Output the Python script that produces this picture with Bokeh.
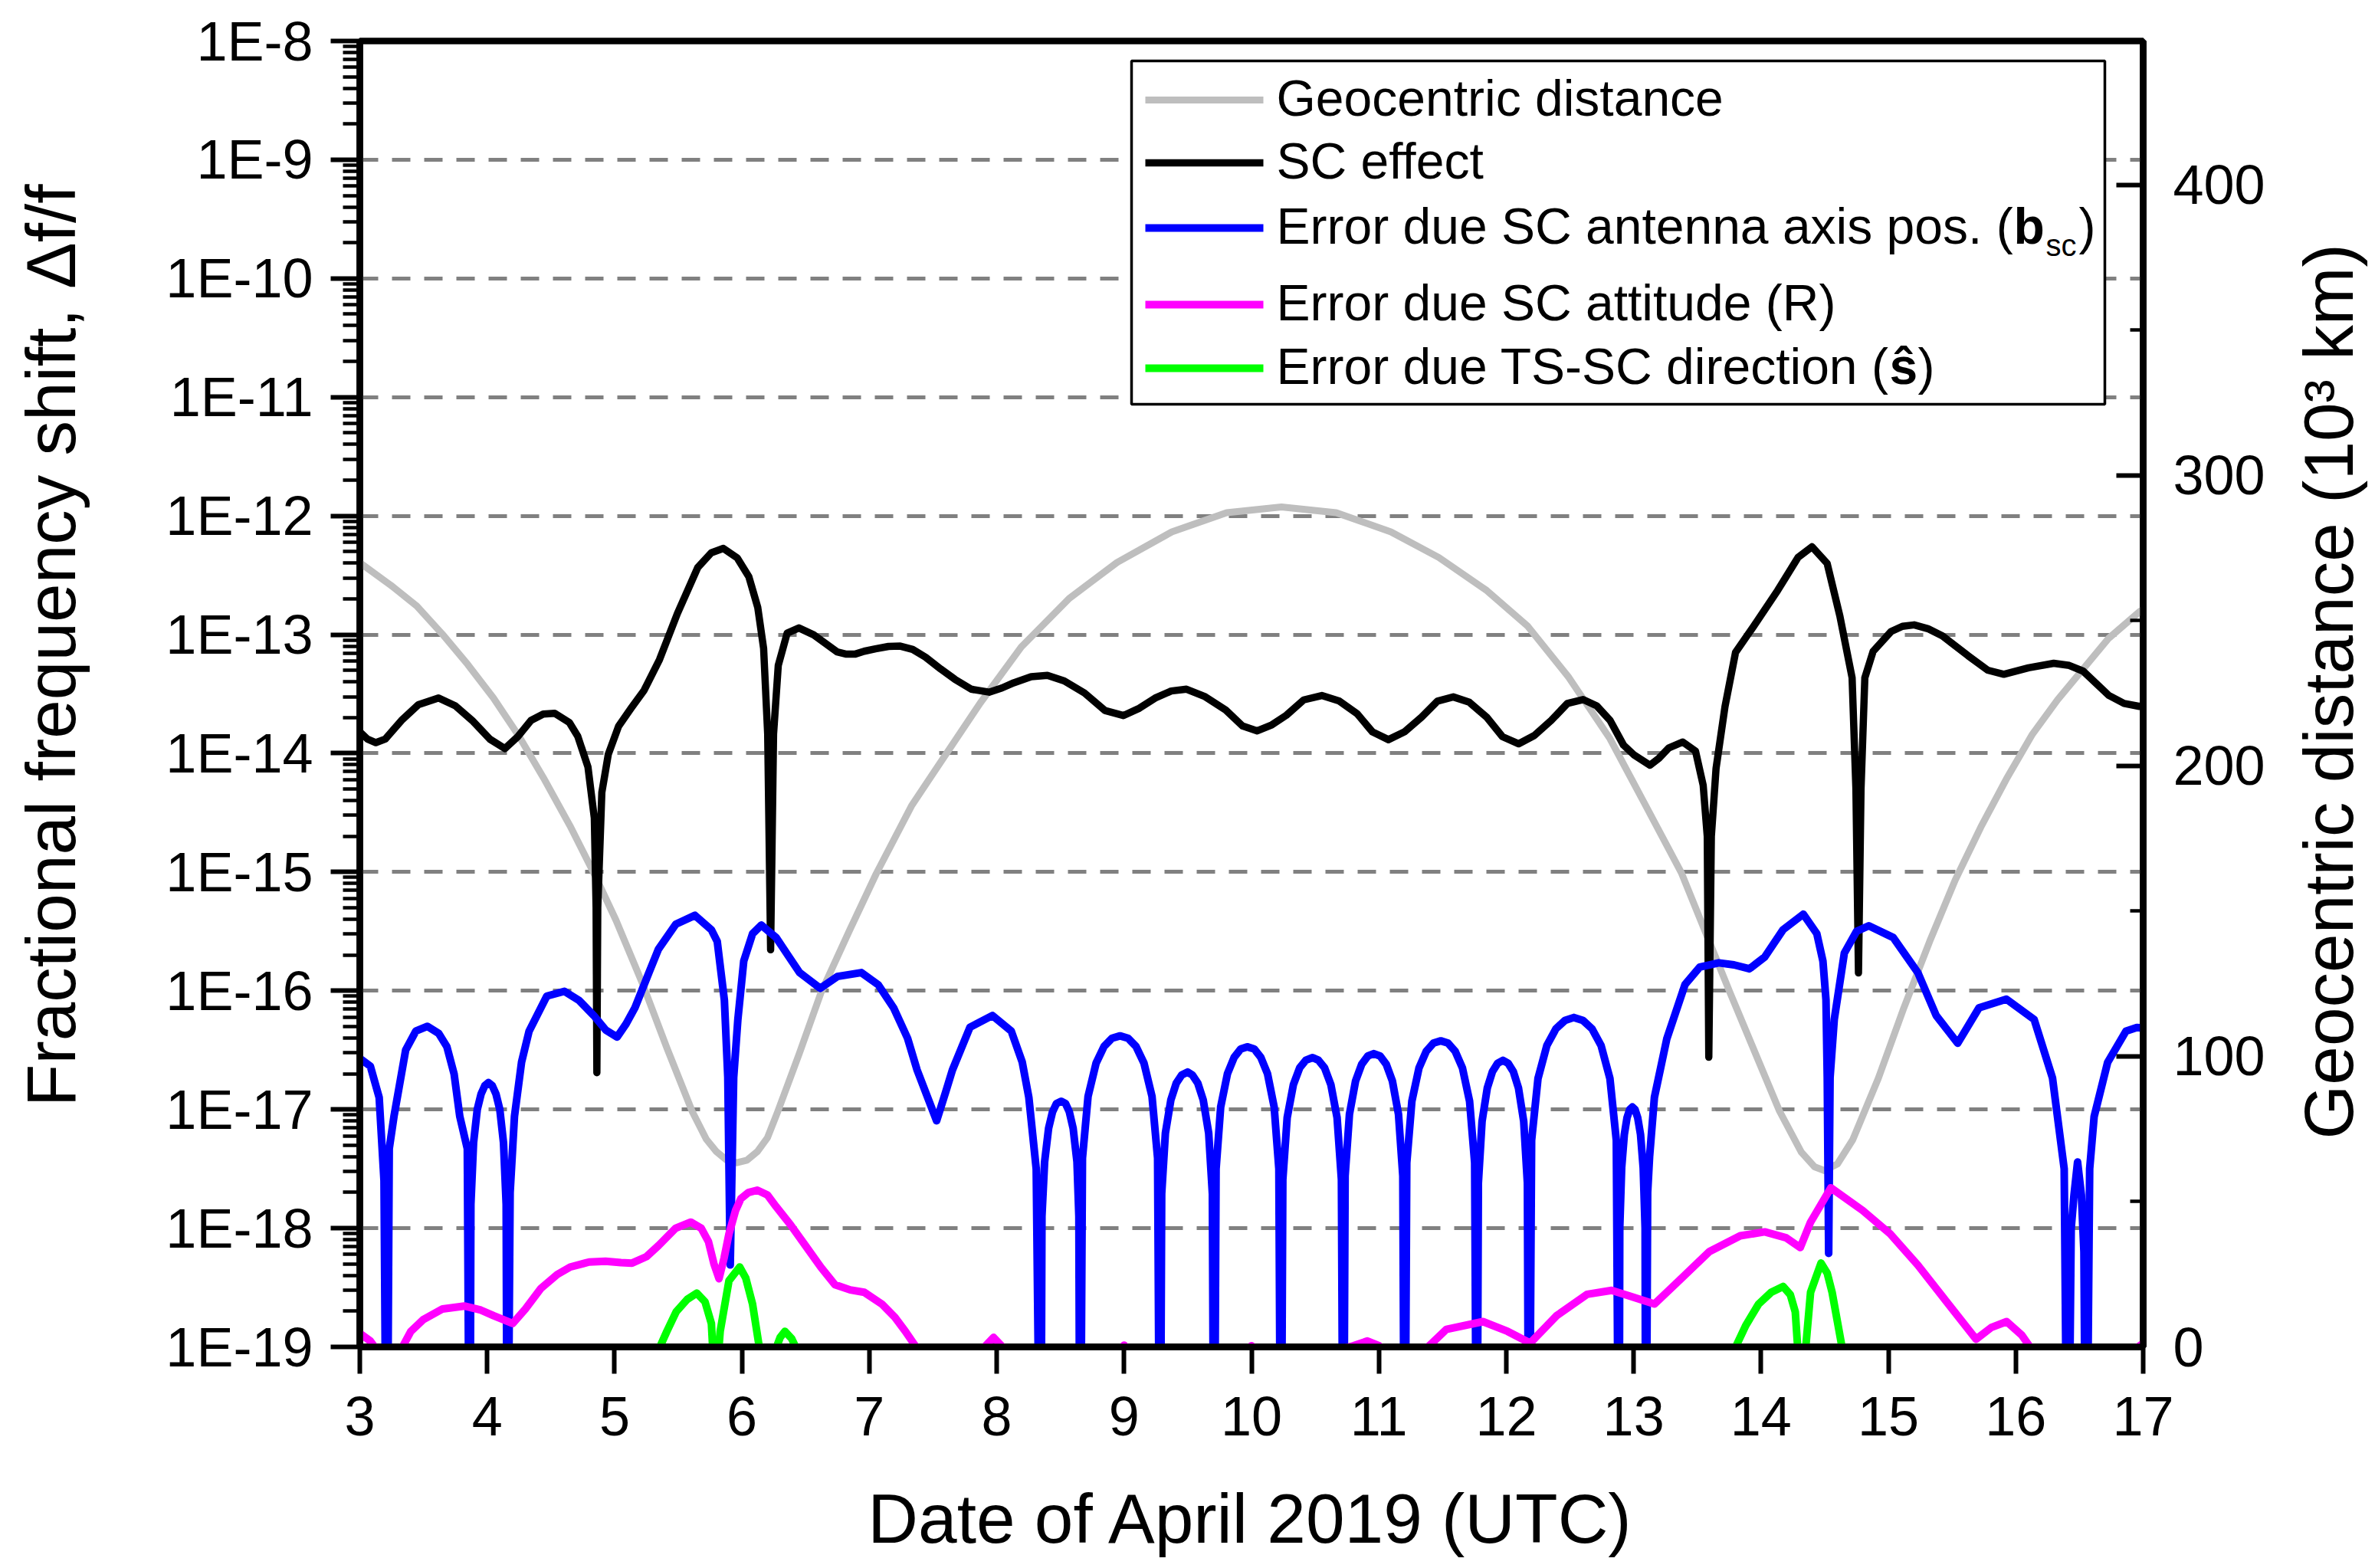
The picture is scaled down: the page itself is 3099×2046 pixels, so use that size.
import math
from bokeh.plotting import figure
from bokeh.models import Range1d, LinearAxis, LinearScale, FixedTicker, CustomJSTickFormatter, Label
from bokeh.embed import file_html
from bokeh.resources import INLINE

FONT = "Liberation Sans"

# ---------------- data ----------------
# x: day of April 2019; y values given as log10 of fractional frequency shift
day_ticks = [3, 4, 5, 6, 7, 8, 9, 10, 11, 12, 13, 14, 15, 16, 17]
decade_exponents = list(range(-19, -7))
dist_ticks = [0, 100, 200, 300, 400]
dist_minor = [50, 150, 250, 350]

left_title = "Fractional frequency shift, \u0394f/f"
bottom_title = "Date of April 2019 (UTC)"
right_title = "Geocentric distance (10\u00b3 km)"

# Geocentric distance (10^3 km)
geocentric = [(3.0, 270), (3.247, 262.1), (3.447, 255.1), (3.648, 245.4), (3.848, 234.9), (4.049, 223.4),
              (4.25, 210.2), (4.45, 195.3), (4.65, 179.4), (4.851, 161.9), (5.011, 146.9), (5.22, 125),
              (5.41, 103), (5.61, 81), (5.72, 71.5), (5.80, 67.2), (5.88, 64.3), (5.96, 63.4), (6.04, 64.3),
              (6.12, 67.2), (6.20, 72), (6.28, 80.9), (6.45, 101), (6.62, 121.9), (6.84, 143), (7.055, 163),
              (7.334, 186.5), (7.602, 204.1), (7.871, 221.7), (8.193, 241), (8.569, 257.7), (8.945, 270.1),
              (9.375, 280.6), (9.805, 287.2), (10.235, 289.2), (10.665, 287.2), (11.094, 280.6), (11.47, 271.8),
              (11.847, 260.4), (12.169, 248.1), (12.491, 230.5), (12.814, 209.4), (13.082, 187.4), (13.374, 163.3),
              (13.76, 121.6), (14.145, 81.2), (14.317, 67), (14.42, 62), (14.499, 60.7), (14.6, 63), (14.72, 71.3),
              (14.921, 92.5), (15.122, 116.8), (15.323, 139.5), (15.524, 160.7), (15.725, 178.9), (15.926, 195.5),
              (16.127, 210.7), (16.328, 222.8), (16.529, 233.4), (16.73, 244.0), (16.971, 253.1), (17.0, 254)]

# SC effect (log10 of df/f)
sc_effect = [(3.0, -13.82), (3.06, -13.88), (3.126, -13.91), (3.2, -13.88), (3.327, -13.723), (3.46, -13.59),
             (3.618, -13.534), (3.75, -13.6), (3.882, -13.723), (4.02, -13.88), (4.139, -13.96), (4.24, -13.86),
             (4.344, -13.723), (4.44, -13.67), (4.53, -13.663), (4.645, -13.74), (4.711, -13.857),
             (4.791, -14.115), (4.841, -14.546), (4.855, -15.3), (4.861, -16.69), (4.868, -15.3),
             (4.9, -14.33), (4.951, -14.007), (5.032, -13.771), (5.13, -13.62), (5.232, -13.469),
             (5.353, -13.21), (5.493, -12.823), (5.653, -12.435), (5.76, -12.31), (5.854, -12.274),
             (5.962, -12.353), (6.054, -12.512), (6.124, -12.771), (6.17, -13.117), (6.202, -13.838),
             (6.225, -15.655), (6.248, -13.838), (6.285, -13.26), (6.355, -12.987), (6.447, -12.944),
             (6.563, -13.002), (6.747, -13.146), (6.82, -13.165), (6.886, -13.165), (6.96, -13.14),
             (7.048, -13.12), (7.15, -13.1), (7.243, -13.097), (7.34, -13.125), (7.441, -13.19),
             (7.56, -13.29), (7.672, -13.377), (7.8, -13.46), (7.94, -13.485), (8.04, -13.45),
             (8.134, -13.406), (8.27, -13.355), (8.398, -13.344), (8.53, -13.39), (8.689, -13.492),
             (8.85, -13.64), (8.994, -13.682), (9.12, -13.62), (9.243, -13.535), (9.37, -13.475),
             (9.49, -13.46), (9.63, -13.52), (9.798, -13.636), (9.93, -13.77), (10.045, -13.811),
             (10.16, -13.76), (10.273, -13.68), (10.41, -13.55), (10.552, -13.513), (10.69, -13.56),
             (10.828, -13.665), (10.95, -13.82), (11.075, -13.885), (11.2, -13.82), (11.336, -13.694),
             (11.46, -13.56), (11.584, -13.525), (11.71, -13.57), (11.845, -13.694), (11.97, -13.86),
             (12.098, -13.92), (12.22, -13.85), (12.353, -13.723), (12.48, -13.58), (12.603, -13.547),
             (12.71, -13.6), (12.815, -13.723), (12.92, -13.93), (13.0, -14.011), (13.128, -14.1),
             (13.2, -14.04), (13.277, -13.954), (13.386, -13.905), (13.486, -13.982), (13.546, -14.27),
             (13.578, -14.7), (13.59, -16.56), (13.61, -14.7), (13.647, -14.127), (13.717, -13.607),
             (13.8, -13.15), (13.942, -12.93), (14.13, -12.629), (14.291, -12.35), (14.40, -12.26),
             (14.519, -12.4), (14.619, -12.844), (14.715, -13.364), (14.745, -14.3), (14.765, -15.85),
             (14.785, -14.3), (14.815, -13.364), (14.88, -13.141), (15.021, -12.974), (15.11, -12.93),
             (15.202, -12.918), (15.31, -12.95), (15.424, -13.011), (15.625, -13.178), (15.78, -13.3),
             (15.906, -13.334), (16.1, -13.28), (16.298, -13.242), (16.42, -13.26), (16.529, -13.308),
             (16.73, -13.512), (16.85, -13.58), (16.971, -13.605), (17.0, -13.6)]

# Error due SC antenna axis position (log10)
antenna_err = [(3.0, -16.57), (3.083, -16.636), (3.152, -16.9), (3.19, -17.6), (3.212, -21), (3.231, -17.33),
               (3.268, -17.06), (3.36, -16.5), (3.44, -16.34), (3.531, -16.3), (3.62, -16.36), (3.683, -16.47),
               (3.74, -16.7), (3.785, -17.06), (3.844, -17.33), (3.863, -21),
               (3.872, -17.8), (3.893, -17.28), (3.922, -17.0), (3.952, -16.87), (3.981, -16.8), (4.01, -16.774),
               (4.04, -16.8), (4.069, -16.87), (4.099, -17.0), (4.128, -17.28), (4.149, -17.8), (4.158, -21),
               (4.18, -17.7), (4.214, -17.06), (4.27, -16.6), (4.329, -16.34), (4.468, -16.045), (4.606, -16.005),
               (4.72, -16.08), (4.837, -16.209), (4.93, -16.33), (5.02, -16.39), (5.09, -16.28), (5.16, -16.143),
               (5.25, -15.9), (5.344, -15.65), (5.48, -15.44), (5.631, -15.365), (5.76, -15.486), (5.806, -15.585),
               (5.862, -16.08), (5.889, -16.73), (5.908, -18.31), (5.935, -16.73), (5.968, -16.24), (6.014, -15.75),
               (6.083, -15.52), (6.152, -15.447), (6.268, -15.552), (6.36, -15.7), (6.452, -15.847), (6.614, -15.979),
               (6.75, -15.88), (6.937, -15.847), (7.07, -15.95), (7.19, -16.143), (7.3, -16.4), (7.375, -16.668),
               (7.528, -17.095), (7.6, -16.85), (7.652, -16.668), (7.79, -16.307), (7.966, -16.209), (8.114, -16.34),
               (8.2, -16.6), (8.252, -16.898), (8.31, -17.5), (8.345, -21),
               (8.355, -17.9), (8.376, -17.44), (8.407, -17.16), (8.438, -17.02), (8.469, -16.95), (8.506, -16.931),
               (8.54, -16.95), (8.57, -17.02), (8.60, -17.16), (8.63, -17.44), (8.645, -17.9), (8.654, -21),
               (8.673, -17.41), (8.717, -16.89), (8.78, -16.61), (8.842, -16.47), (8.905, -16.40), (8.968, -16.38),
               (9.031, -16.40), (9.094, -16.47), (9.156, -16.61), (9.219, -16.89), (9.263, -17.41), (9.282, -21),
               (9.295, -17.71), (9.324, -17.2), (9.367, -16.92), (9.409, -16.78), (9.452, -16.71), (9.498, -16.685),
               (9.536, -16.71), (9.579, -16.78), (9.621, -16.92), (9.664, -17.2), (9.693, -17.71), (9.706, -21),
               (9.722, -17.5), (9.758, -16.98), (9.811, -16.70), (9.864, -16.56), (9.916, -16.49), (9.966, -16.472),
               (10.021, -16.49), (10.073, -16.56), (10.126, -16.70), (10.178, -16.98), (10.215, -17.5), (10.231, -21),
               (10.246, -17.59), (10.28, -17.07), (10.329, -16.79), (10.378, -16.65), (10.427, -16.585),
               (10.48, -16.563), (10.525, -16.585), (10.574, -16.65), (10.623, -16.79), (10.672, -17.07),
               (10.706, -17.59), (10.721, -21),
               (10.735, -17.56), (10.769, -17.04), (10.817, -16.76), (10.865, -16.62), (10.913, -16.55),
               (10.96, -16.53), (11.01, -16.55), (11.058, -16.62), (11.106, -16.76), (11.154, -17.04),
               (11.188, -17.56), (11.202, -21),
               (11.219, -17.45), (11.259, -16.93), (11.315, -16.65), (11.372, -16.51), (11.429, -16.44),
               (11.486, -16.422), (11.542, -16.44), (11.599, -16.51), (11.656, -16.65), (11.712, -16.93),
               (11.752, -17.45), (11.769, -21),
               (11.781, -17.62), (11.81, -17.1), (11.851, -16.82), (11.892, -16.68), (11.933, -16.61),
               (11.974, -16.586), (12.014, -16.61), (12.055, -16.68), (12.096, -16.82), (12.137, -17.1),
               (12.166, -17.62), (12.178, -21),
               (12.199, -17.26), (12.249, -16.74), (12.319, -16.46), (12.39, -16.32), (12.461, -16.25),
               (12.531, -16.225), (12.602, -16.25), (12.673, -16.32), (12.744, -16.46), (12.814, -16.74),
               (12.864, -17.26), (12.885, -21),
               (12.891, -18.0), (12.906, -17.49), (12.927, -17.21), (12.948, -17.07), (12.969, -17.0),
               (12.99, -16.98), (13.011, -17.0), (13.032, -17.07), (13.054, -17.21), (13.075, -17.49),
               (13.09, -18.0), (13.096, -21),
               (13.11, -17.7), (13.125, -17.4), (13.163, -16.898), (13.26, -16.406),
               (13.404, -15.946), (13.52, -15.8), (13.668, -15.765), (13.788, -15.782), (13.909, -15.815),
               (14.029, -15.716), (14.173, -15.486), (14.332, -15.355), (14.438, -15.519), (14.486, -15.75),
               (14.51, -16.077), (14.52, -16.73), (14.531, -18.212), (14.542, -16.73), (14.575, -16.242),
               (14.654, -15.683), (14.75, -15.5), (14.846, -15.453), (15.038, -15.552), (15.231, -15.847),
               (15.375, -16.209), (15.544, -16.442), (15.712, -16.143), (15.926, -16.071), (16.144, -16.242),
               (16.288, -16.734), (16.38, -17.5), (16.408, -21), (16.435, -18.0), (16.457, -17.72), (16.485, -17.443),
               (16.515, -17.72), (16.535, -18.2), (16.552, -21), (16.58, -17.5), (16.615, -17.06), (16.721, -16.603),
               (16.865, -16.34), (16.95, -16.31), (17.0, -16.314)]

# Error due SC attitude (log10)
attitude_err = [(3.0, -18.886), (3.083, -18.951), (3.15, -19.05), (3.23, -20.5), (3.31, -19.05), (3.4, -18.87),
                (3.498, -18.77), (3.65, -18.68), (3.82, -18.656), (3.95, -18.69), (4.052, -18.738), (4.2, -18.803),
                (4.3, -18.68), (4.421, -18.508), (4.55, -18.39), (4.652, -18.327), (4.8, -18.285), (4.929, -18.278),
                (5.05, -18.29), (5.137, -18.294), (5.25, -18.24), (5.345, -18.146), (5.48, -18.0), (5.598, -17.949),
                (5.68, -18.0), (5.737, -18.113), (5.78, -18.3), (5.82, -18.425), (5.86, -18.25), (5.898, -18.048),
                (5.95, -17.85), (5.991, -17.752), (6.05, -17.7), (6.12, -17.68), (6.2, -17.72), (6.268, -17.818),
                (6.38, -17.97), (6.498, -18.146), (6.62, -18.33), (6.729, -18.475), (6.85, -18.52), (6.96, -18.54),
                (7.098, -18.639), (7.2, -18.75), (7.283, -18.869), (7.398, -19.05), (7.5, -20.5), (7.8, -20.5),
                (7.86, -19.05), (7.975, -18.92), (8.09, -19.05), (8.2, -20.5), (8.9, -20.5), (8.95, -19.05),
                (9.0, -18.985), (9.05, -19.05), (9.2, -20.5), (9.9, -20.5), (9.95, -19.05), (10.0, -18.99),
                (10.05, -19.05), (10.2, -20.5), (10.5, -20.5), (10.6, -19.05), (10.8, -18.99), (10.91, -18.95),
                (11.0, -18.99), (11.05, -19.05), (11.2, -20.5), (11.3, -20.5), (11.337, -19.05), (11.53, -18.853),
                (11.817, -18.787), (12.01, -18.869), (12.188, -18.968), (12.394, -18.738), (12.635, -18.557),
                (12.827, -18.524), (12.971, -18.573), (13.163, -18.639), (13.356, -18.442), (13.596, -18.196),
                (13.837, -18.064), (14.029, -18.031), (14.197, -18.081), (14.308, -18.163), (14.389, -17.949),
                (14.548, -17.66), (14.798, -17.851), (15.014, -18.048), (15.231, -18.311), (15.471, -18.639),
                (15.688, -18.935), (15.808, -18.836), (15.928, -18.787), (16.048, -18.902), (16.144, -19.05),
                (16.3, -20.5), (16.9, -20.5), (16.96, -19.0), (17.0, -18.97)]

# Error due TS-SC direction (log10)
direction_err = [(5.25, -20.5), (5.335, -19.05), (5.41, -18.87), (5.483, -18.705), (5.57, -18.6), (5.645, -18.547),
                 (5.71, -18.62), (5.76, -18.803), (5.78, -19.2), (5.792, -20.5), (5.805, -19.2), (5.829, -18.869),
                 (5.898, -18.442), (5.982, -18.327), (6.03, -18.42), (6.083, -18.639), (6.143, -19.05), (6.2, -20.5),
                 (6.254, -19.05), (6.3, -18.92), (6.337, -18.869), (6.39, -18.93), (6.443, -19.05), (6.55, -20.5),
                 (13.65, -20.5), (13.779, -19.05), (13.88, -18.82), (13.981, -18.639), (14.08, -18.54),
                 (14.173, -18.491), (14.23, -18.56), (14.269, -18.705), (14.3, -19.2), (14.317, -20.5),
                 (14.335, -19.2), (14.389, -18.54), (14.471, -18.294), (14.52, -18.38), (14.558, -18.54),
                 (14.644, -19.05), (14.75, -20.5)]

series_names = ["Geocentric distance", "SC effect", "Error due SC antenna axis pos. (",
                "Error due SC attitude (R)", "Error due TS-SC direction ("]
series_colors = ["#BEBEBE", "#000000", "#0000FF", "#FF00FF", "#00FF00"]
series_widths = [9, 9.5, 10, 10, 10]


def unzip(pairs, log=True):
    xs = [a for a, _ in pairs]
    ys = [10.0 ** b for _, b in pairs] if log else [b for _, b in pairs]
    return xs, ys


# ---------------- figure ----------------
W, H = 3099, 2046
FL, FR, FT, FB = 469, 2796, 53, 1757   # frame edges in page pixels


def px_x(px):
    return 3 + (px - FL) * 14.0 / (FR - FL)


def px_y(py):
    return 10 ** (-8 - (py - FT) * 11.0 / (FB - FT))


p = figure(frame_width=FR - FL, frame_height=FB - FT,
           x_range=Range1d(3, 17), y_range=Range1d(1e-19, 1e-8),
           y_axis_type="log", output_backend="svg", toolbar_location=None,
           min_border_left=FL, min_border_right=W - FR,
           min_border_top=FT, min_border_bottom=H - FB)
p.extra_y_ranges = {"dist": Range1d(0, 449.6)}
p.extra_y_scales = {"dist": LinearScale()}
p.background_fill_color = "white"
p.border_fill_color = "white"
p.outline_line_color = "black"
p.outline_line_width = 8.5

# grid
p.xgrid.visible = False
p.ygrid.grid_line_color = "#808080"
p.ygrid.grid_line_width = 5
p.ygrid.grid_line_dash = "24 18"

# left log axis
yax = p.yaxis[0]
yax.ticker = FixedTicker(ticks=[10.0 ** e for e in decade_exponents],
                         minor_ticks=[m * 10.0 ** e for e in decade_exponents[:-1] for m in range(2, 10)])
yax.formatter = CustomJSTickFormatter(code="return '1E' + Math.round(Math.log10(tick));")
# leading no-break spaces shift the centred title slightly upward, as in the original
yax.axis_label = "\u00a0" * 5 + left_title

# bottom axis
xax = p.xaxis[0]
xax.ticker = FixedTicker(ticks=day_ticks, minor_ticks=[])
xax.axis_label = bottom_title

# right axis
rax = LinearAxis(y_range_name="dist", ticker=FixedTicker(ticks=dist_ticks, minor_ticks=dist_minor))
p.add_layout(rax, "right")
try:
    rax.axis_label_align = "start"
    rax.axis_label_orientation = math.pi / 2
    rax.axis_label = "\u00a0" * 10 + "\u2009" + right_title
    rax.axis_label_standoff = 80
except AttributeError:
    rax.axis_label = right_title
    rax.axis_label_standoff = 40

for ax in (yax, xax, rax):
    ax.axis_line_width = 8.5
    ax.axis_line_color = "black"
    ax.major_tick_line_width = 6
    ax.minor_tick_line_width = 4.5
    ax.major_tick_line_color = "black"
    ax.minor_tick_line_color = "black"
    ax.major_label_text_font = FONT
    ax.major_label_text_font_size = "72px"
    ax.major_label_text_color = "black"
    ax.axis_label_text_font = FONT
    ax.axis_label_text_font_size = "91px"
    ax.axis_label_text_font_style = "normal"
    ax.axis_label_text_color = "black"

yax.major_tick_in, yax.major_tick_out = 0, 38
yax.minor_tick_in, yax.minor_tick_out = 0, 22
yax.major_label_standoff = 23
yax.axis_label_standoff = 96

xax.major_tick_in, xax.major_tick_out = 0, 35
xax.major_label_standoff = 30
xax.axis_label_standoff = 55

rax.major_tick_in, rax.major_tick_out = 35, 0
rax.minor_tick_in, rax.minor_tick_out = 17, 0
rax.major_label_standoff = 39

# ---------------- data lines ----------------
gx, gy = unzip(geocentric, log=False)
p.line(gx, gy, y_range_name="dist", line_color=series_colors[0], line_width=series_widths[0],
       line_join="round")
for pairs, col, lw in ((sc_effect, series_colors[1], series_widths[1]),
                       (antenna_err, series_colors[2], series_widths[2]),
                       (attitude_err, series_colors[3], series_widths[3]),
                       (direction_err, series_colors[4], series_widths[4])):
    xs, ys = unzip(pairs)
    p.line(xs, ys, line_color=col, line_width=lw, line_join="round")

# ---------------- legend (box, samples, rich labels) ----------------
p.quad(left=px_x(1476), right=px_x(2746), top=px_y(79), bottom=px_y(527),
       fill_color="white", line_color="black", line_width=3.5)
rows = [130, 212, 297, 397, 480]
for col, row, lw in zip(series_colors, rows, series_widths):
    p.line([px_x(1494), px_x(1648)], [px_y(row), px_y(row)], line_color=col, line_width=lw)


def leg_label(px, py, text, size="66px", style="normal"):
    p.add_layout(Label(x=px_x(px), y=px_y(py), text=text, text_align="left",
                       text_baseline="alphabetic", text_font=FONT, text_font_size=size,
                       text_font_style=style, text_color="black"))


for name, row in zip(series_names, rows):
    leg_label(1665, row - 3, name)
# (b_sc) with bold b and subscript sc
leg_label(2627, rows[2] - 3, "b", style="bold")
leg_label(2669, rows[2] + 22, "sc", size="40px")
leg_label(2712, rows[2] - 3, ")")
# (s-hat) bold
leg_label(2465, rows[4] - 3, "\u015d", style="bold")
leg_label(2502, rows[4] - 3, ")")

open("out.html", "w").write(file_html(p, INLINE))
